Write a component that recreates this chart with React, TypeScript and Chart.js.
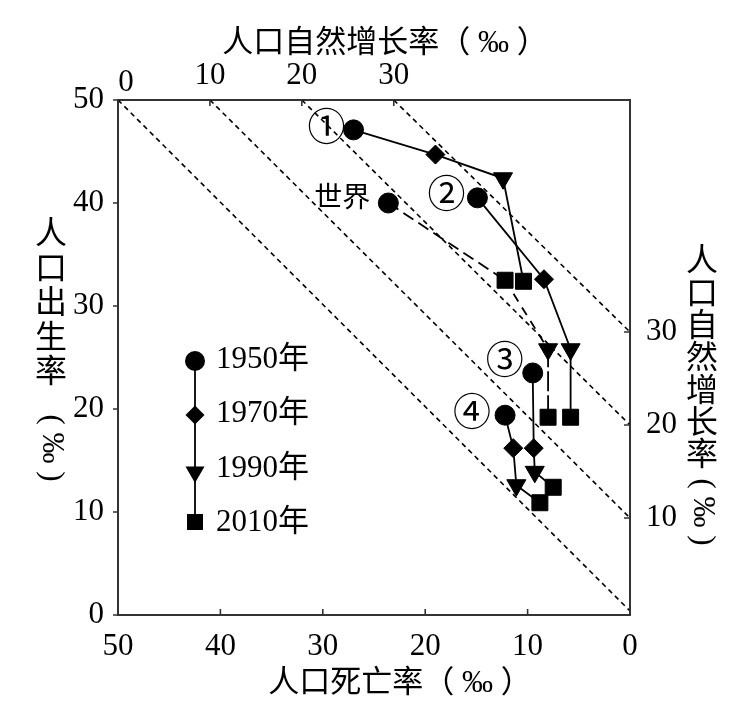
import React, { useEffect, useRef } from 'react';
import { Chart, registerables } from 'chart.js';

Chart.register(...registerables);

const FONT = '"Liberation Serif", "Noto Sans CJK SC", serif';

// ---------- data ----------
const years = ['1950年', '1970年', '1990年', '2010年'];
const growthTopTicks = [0, 10, 20, 30];
const growthRightTicks = [10, 20, 30];
const growthLines = [0, 10, 20, 30];

// death rate (x, ‰) and birth rate (y, ‰)
const r1Death = [27.0, 19.0, 12.4, 10.4];
const r1Birth = [47.1, 44.7, 42.4, 32.4];
const r2Death = [14.9, 8.4, 5.8, 5.8];
const r2Birth = [40.5, 32.6, 25.8, 19.2];
const r3Death = [9.5, 9.4, 9.3, 7.5];
const r3Birth = [23.5, 16.2, 13.9, 12.4];
const r4Death = [12.2, 11.4, 11.1, 8.8];
const r4Birth = [19.4, 16.2, 12.6, 10.9];
const worldDeath = [23.6, 12.2, 8.0, 8.0];
const worldBirth = [40.0, 32.5, 25.8, 19.2];

const yearMarkers = ['circle', 'rectRot', 'triangle', 'rect'];
const worldMarkers = ['circle', 'rect', 'triangle', 'rect'];

const tag1 = '①';
const tag2 = '②';
const tag3 = '③';
const tag4 = '④';
const tagWorld = '世界';

const xTitle = '人口死亡率（ ‰ ）';
const topTitle = '人口自然增长率（ ‰ ）';
const leftTitleChars = ['人', '口', '出', '生', '率'];
const rightTitleChars = ['人', '口', '自', '然', '增', '长', '率'];
const vertTail = '( ‰ )';

// ---------- styling helpers ----------
const radiusFor = (s: string) =>
  s === 'circle' ? 10 : s === 'rectRot' ? 9.5 : s === 'triangle' ? 11 : 11.3;
const rotationFor = (s: string) => (s === 'triangle' ? 180 : 0);

function makeSeries(
  death: number[],
  birth: number[],
  markers: string[],
  tag: string,
  tagDx: number,
  tagDy: number,
  tagAlign: string,
  tagSize: number,
  dashed = false
): any {
  return {
    type: 'line',
    data: death.map((d, i) => ({ x: d, y: birth[i] })),
    borderColor: '#000',
    backgroundColor: '#000',
    borderWidth: 1.8,
    fill: false,
    tension: 0,
    pointStyle: markers,
    pointRadius: markers.map(radiusFor),
    pointRotation: markers.map(rotationFor),
    pointBackgroundColor: '#000',
    pointBorderColor: '#000',
    pointBorderWidth: 1,
    segment: dashed
      ? {
          borderDash: (ctx: any) =>
            ctx.p0DataIndex === 0 ? [12, 6] : ctx.p0DataIndex === 1 ? [9, 7] : [10, 6, 2, 6],
        }
      : undefined,
    tag,
    tagDx,
    tagDy,
    tagAlign,
    tagSize,
  };
}

function drawMarker(ctx: CanvasRenderingContext2D, style: string, x: number, y: number) {
  const r = radiusFor(style);
  ctx.beginPath();
  if (style === 'circle') {
    ctx.arc(x, y, r, 0, Math.PI * 2);
  } else if (style === 'rectRot') {
    ctx.moveTo(x - r, y);
    ctx.lineTo(x, y - r);
    ctx.lineTo(x + r, y);
    ctx.lineTo(x, y + r);
    ctx.closePath();
  } else if (style === 'triangle') {
    const a = Math.PI;
    for (let k = 0; k < 3; k++) {
      const ang = a + (k * 2 * Math.PI) / 3;
      const px = x + Math.sin(ang) * r;
      const py = y - Math.cos(ang) * r;
      if (k === 0) ctx.moveTo(px, py);
      else ctx.lineTo(px, py);
    }
    ctx.closePath();
  } else {
    const h = Math.SQRT1_2 * r;
    ctx.rect(x - h, y - h, 2 * h, 2 * h);
  }
  ctx.fill();
}

const overlayPlugin = {
  id: 'overlay',
  beforeDatasetsDraw(chart: any) {
    const { ctx, chartArea: a, scales } = chart;
    const x2 = scales.x2;
    const y2 = scales.y2;
    ctx.save();
    ctx.beginPath();
    ctx.rect(a.left, a.top, a.right - a.left, a.bottom - a.top);
    ctx.clip();
    ctx.setLineDash([5, 4]);
    ctx.lineWidth = 1.6;
    ctx.strokeStyle = '#000';
    for (const g of growthLines) {
      ctx.beginPath();
      ctx.moveTo(x2.getPixelForValue(g), a.top);
      ctx.lineTo(a.right, y2.getPixelForValue(g));
      ctx.stroke();
    }
    ctx.restore();
  },
  afterDraw(chart: any) {
    const { ctx, chartArea: a, scales } = chart;
    ctx.save();
    // tick marks
    ctx.strokeStyle = '#333';
    ctx.lineWidth = 1.6;
    ctx.setLineDash([]);
    ctx.beginPath();
    for (const t of scales.x.ticks) {
      const p = scales.x.getPixelForValue(t.value);
      ctx.moveTo(p, a.bottom);
      ctx.lineTo(p, a.bottom - 6);
    }
    for (const t of scales.x2.ticks) {
      const p = scales.x2.getPixelForValue(t.value);
      ctx.moveTo(p, a.top);
      ctx.lineTo(p, a.top + 6);
    }
    for (const t of scales.y.ticks) {
      const p = scales.y.getPixelForValue(t.value);
      ctx.moveTo(a.left, p);
      ctx.lineTo(a.left - 5, p);
    }
    for (const t of scales.y2.ticks) {
      const p = scales.y2.getPixelForValue(t.value);
      ctx.moveTo(a.right, p);
      ctx.lineTo(a.right - 6, p);
    }
    ctx.stroke();

    ctx.fillStyle = '#000';
    ctx.textBaseline = 'middle';

    // first top tick label, nudged right off the corner as in the original
    ctx.font = `31px ${FONT}`;
    ctx.textAlign = 'center';
    ctx.fillText(String(growthTopTicks[0]), scales.x2.getPixelForValue(growthTopTicks[0]) + 8, a.top - 17);

    // horizontal titles
    ctx.font = `31px ${FONT}`;
    ctx.textAlign = 'center';
    ctx.fillText(topTitle, a.left + 267, a.top - 56);
    ctx.fillText(xTitle, a.left + 282, a.bottom + 69);

    // vertical titles
    const drawVertical = (chars: string[], x: number, y0: number, pitch: number, tailY: number) => {
      ctx.font = `32px ${FONT}`;
      ctx.textAlign = 'center';
      chars.forEach((c, i) => ctx.fillText(c, x, y0 + i * pitch));
      ctx.save();
      ctx.translate(x, tailY);
      ctx.rotate(Math.PI / 2);
      ctx.font = `31px ${FONT}`;
      ctx.fillText(vertTail, 0, 0);
      ctx.restore();
    };
    drawVertical(leftTitleChars, a.left - 67, a.top + 136, 34.5, a.top + 348);
    drawVertical(rightTitleChars, a.right + 72, a.top + 163, 32.3, a.top + 412);

    // series tags
    chart.data.datasets.forEach((ds: any, i: number) => {
      const meta = chart.getDatasetMeta(i);
      const pt = meta.data[0];
      if (!pt || !ds.tag) return;
      ctx.font = `${ds.tagSize}px ${FONT}`;
      ctx.textAlign = ds.tagAlign;
      ctx.fillText(ds.tag, pt.x + ds.tagDx, pt.y + ds.tagDy);
    });

    // legend
    const lx = a.left + 77;
    const ly = [a.top + 261, a.top + 315, a.top + 372, a.top + 422];
    const ty = [a.top + 260, a.top + 314, a.top + 369, a.top + 423];
    ctx.strokeStyle = '#000';
    ctx.lineWidth = 1.8;
    ctx.beginPath();
    ctx.moveTo(lx, ly[0]);
    ctx.lineTo(lx, ly[ly.length - 1]);
    ctx.stroke();
    yearMarkers.forEach((m, i) => drawMarker(ctx, m, lx, ly[i]));
    ctx.font = `31px ${FONT}`;
    ctx.textAlign = 'left';
    years.forEach((y, i) => ctx.fillText(y, lx + 21, ty[i]));
    ctx.restore();
  },
};

const tickFont = { family: FONT, size: 31, lineHeight: 1 };
const border = { display: true, color: '#333', width: 2 };

export default function App() {
  const ref = useRef<HTMLCanvasElement>(null);
  useEffect(() => {
    const chart = new Chart(ref.current as HTMLCanvasElement, {
      type: 'line',
      data: {
        datasets: [
          makeSeries(worldDeath, worldBirth, worldMarkers, tagWorld, -18, -3, 'right', 28, true),
          makeSeries(r1Death, r1Birth, yearMarkers, tag1, -27, 0, 'center', 38),
          makeSeries(r2Death, r2Birth, yearMarkers, tag2, -31, -1, 'center', 38),
          makeSeries(r3Death, r3Birth, yearMarkers, tag3, -28, -10, 'center', 38),
          makeSeries(r4Death, r4Birth, yearMarkers, tag4, -33, 0, 'center', 38),
        ],
      },
      options: {
        animation: false,
        responsive: true,
        maintainAspectRatio: false,
        layout: { padding: 0 },
        plugins: {
          legend: { display: false },
          tooltip: { enabled: false },
        },
        events: [],
        scales: {
          x: {
            type: 'linear',
            position: 'bottom',
            reverse: true,
            min: 0,
            max: 50,
            grid: { display: false },
            border,
            ticks: { stepSize: 10, font: tickFont, color: '#000', padding: 8, maxRotation: 0, autoSkip: false },
            afterFit: (s: any) => {
              s.height = 104;
            },
          },
          x2: {
            type: 'linear',
            position: 'top',
            min: 0,
            max: 55.7,
            grid: { display: false },
            border,
            ticks: {
              font: tickFont,
              color: '#000',
              padding: 1,
              maxRotation: 0,
              autoSkip: false,
              callback: (v: any) => (v === growthTopTicks[0] ? '' : String(v)),
            },
            afterBuildTicks: (s: any) => {
              s.ticks = growthTopTicks.map((v) => ({ value: v }));
            },
            afterFit: (s: any) => {
              s.height = 100;
            },
          },
          y: {
            type: 'linear',
            position: 'left',
            min: 0,
            max: 50,
            grid: { display: false },
            border,
            ticks: { stepSize: 10, font: tickFont, color: '#000', padding: 6, autoSkip: false },
            afterFit: (s: any) => {
              s.width = 118;
            },
          },
          y2: {
            type: 'linear',
            position: 'right',
            min: -0.43,
            max: 54.95,
            grid: { display: false },
            border,
            ticks: { font: tickFont, color: '#000', padding: 8, autoSkip: false },
            afterBuildTicks: (s: any) => {
              s.ticks = growthRightTicks.map((v) => ({ value: v }));
            },
            afterFit: (s: any) => {
              s.width = 112;
            },
          },
        },
      } as any,
      plugins: [overlayPlugin],
    });
    return () => chart.destroy();
  }, []);
  return (
    <div style={{ position: 'absolute', left: 0, top: 0, width: 742, height: 719, background: '#fff' }}>
      <canvas ref={ref} />
    </div>
  );
}
